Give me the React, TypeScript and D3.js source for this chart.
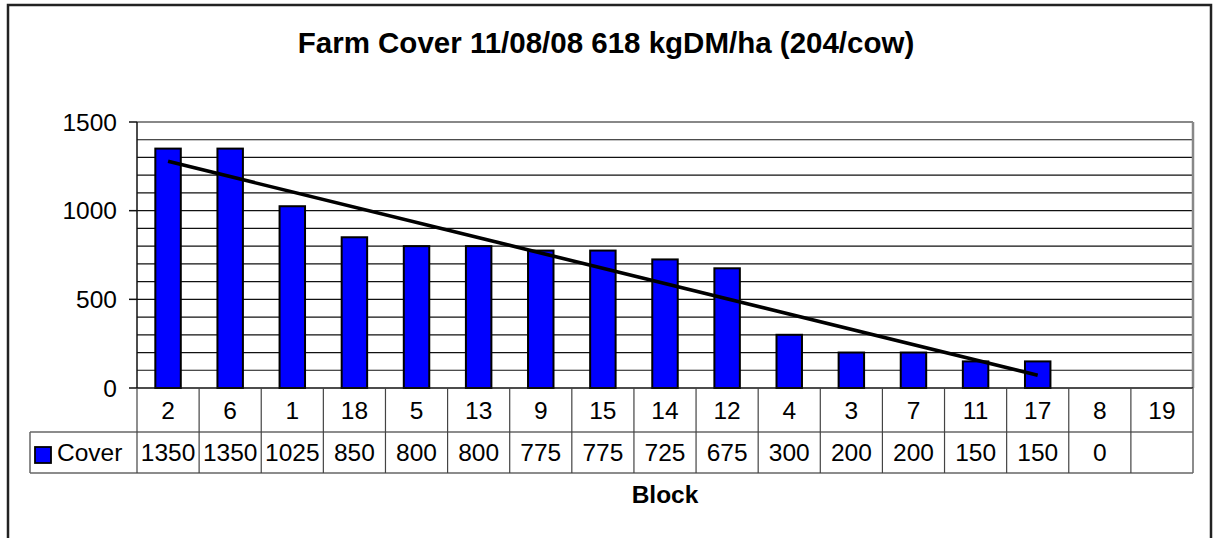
import React from 'react';
import * as d3 from 'd3';

// chart data
const blocks = ['2', '6', '1', '18', '5', '13', '9', '15', '14', '12', '4', '3', '7', '11', '17', '8', '19'];
const cover: (number | null)[] = [1350, 1350, 1025, 850, 800, 800, 775, 775, 725, 675, 300, 200, 200, 150, 150, 0, null];
const yTicks = [0, 500, 1000, 1500];
const title = 'Farm Cover 11/08/08 618 kgDM/ha (204/cow)';
const seriesName = 'Cover';
const axisTitle = 'Block';

const W = 1215;
const H = 538;
const margin = { left: 137, right: 22, top: 122, bottom: 150 };
const font = 'Arial, "Liberation Sans", sans-serif';

const App = () => {
    const plotR = W - margin.right;
    const plotB = H - margin.bottom;

    const x = d3.scaleBand().domain(blocks).range([margin.left, plotR]).paddingInner(0).paddingOuter(0);
    const y = d3.scaleLinear().domain([0, 1500]).range([plotB, margin.top]);
    const bw = x.bandwidth() * 0.41;
    const gridVals = d3.range(100, 1501, 100);

    // linear trendline over the non-zero points (as the spreadsheet did)
    const pts = cover
        .map((v, i) => ({ i: i + 1, v }))
        .filter(p => p.v !== null && p.v > 0) as { i: number; v: number }[];
    const mx = d3.mean(pts, p => p.i) as number;
    const my = d3.mean(pts, p => p.v) as number;
    const slope = d3.sum(pts, p => (p.i - mx) * (p.v - my)) / d3.sum(pts, p => (p.i - mx) ** 2);
    const trend = (i: number) => my + slope * (i - mx);
    const first = pts[0];
    const last = pts[pts.length - 1];
    const cx = (i: number) => (x(blocks[i - 1]) as number) + x.bandwidth() / 2;
    const line = d3.line<number>().x(i => cx(i)).y(i => y(trend(i)));

    const row1B = plotB + 44;
    const row2B = row1B + 41;
    const legendL = 30;

    return (
        <svg width={W} height={H} style={{ position: 'absolute', left: 0, top: 0, background: '#fff' }}
            fontFamily={font}>
            <rect x={8} y={5} width={1203} height={H + 10} fill="#fff" stroke="#222" strokeWidth={2.5} />
            <text x={606} y={53} textAnchor="middle" fontSize={29.5} fontWeight="bold">{title}</text>

            {/* grid */}
            {gridVals.map(v => (
                <line key={v} x1={margin.left} x2={plotR} y1={y(v)} y2={y(v)}
                    stroke={v === 1500 ? '#888' : '#111'} strokeWidth={v === 1500 ? 2 : 1.2} />
            ))}
            <line x1={plotR} x2={plotR} y1={margin.top} y2={plotB} stroke="#888" strokeWidth={2.5} />

            {/* bars */}
            {cover.map((v, i) => v === null || v === 0 ? null : (
                <rect key={i} x={cx(i + 1) - bw / 2} y={y(v)} width={bw} height={y(0) - y(v)}
                    fill="#0000ff" stroke="#000" strokeWidth={2} />
            ))}

            {/* trendline */}
            <path d={line([first.i, last.i]) as string} fill="none" stroke="#000" strokeWidth={3.6} />

            {/* y axis */}
            <line x1={margin.left} x2={margin.left} y1={margin.top} y2={plotB} stroke="#111" strokeWidth={1.5} />
            {yTicks.map(t => (
                <g key={t}>
                    <line x1={margin.left - 8} x2={margin.left} y1={y(t)} y2={y(t)} stroke="#111" strokeWidth={1.5} />
                    <text x={117} y={y(t)} dy="0.35em" textAnchor="end" fontSize={24.5}>{t}</text>
                </g>
            ))}
            <line x1={margin.left} x2={plotR} y1={plotB} y2={plotB} stroke="#111" strokeWidth={1.5} />

            {/* data table */}
            <line x1={legendL} x2={plotR} y1={row1B} y2={row1B} stroke="#666" strokeWidth={1.5} />
            <line x1={legendL} x2={plotR} y1={row2B} y2={row2B} stroke="#666" strokeWidth={1.5} />
            <line x1={legendL} x2={legendL} y1={row1B} y2={row2B} stroke="#666" strokeWidth={1.5} />
            {blocks.map(b => (
                <line key={b} x1={(x(b) as number)} x2={(x(b) as number)} y1={plotB} y2={row2B}
                    stroke="#444" strokeWidth={1.2} />
            ))}
            <line x1={plotR} x2={plotR} y1={plotB} y2={row2B} stroke="#666" strokeWidth={1.5} />
            {blocks.map((b, i) => (
                <text key={b} x={cx(i + 1)} y={(plotB + row1B) / 2} dy="0.35em" textAnchor="middle" fontSize={24.5}>{b}</text>
            ))}
            {cover.map((v, i) => v === null ? null : (
                <text key={i} x={cx(i + 1)} y={(row1B + row2B) / 2} dy="0.35em" textAnchor="middle" fontSize={24.5}>{v}</text>
            ))}
            <rect x={35} y={447} width={16} height={16} fill="#0000ff" stroke="#000" strokeWidth={1.8} />
            <text x={57} y={(row1B + row2B) / 2} dy="0.35em" fontSize={24.5}>{seriesName}</text>

            <text x={(margin.left + plotR) / 2} y={503} textAnchor="middle" fontSize={24.5} fontWeight="bold">{axisTitle}</text>
        </svg>
    );
};

export default App;
